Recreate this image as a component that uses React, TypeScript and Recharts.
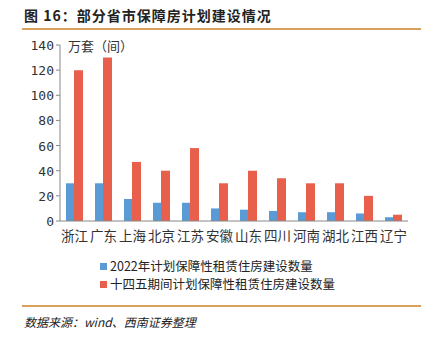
import React from "react";
import { BarChart, Bar, XAxis, YAxis } from "recharts";

const provinces = ["浙江", "广东", "上海", "北京", "江苏", "安徽", "山东", "四川", "河南", "湖北", "江西", "辽宁"];
const plan2022 = [30, 30, 17.5, 14.5, 14.5, 10, 9, 8, 7, 7, 6, 3];
const plan14th = [120, 130, 47, 40, 58, 30, 40, 34, 30, 30, 20, 5];
const yTicks = [0, 20, 40, 60, 80, 100, 120, 140];
const boundaryTicks = [0, 1, 2, 3, 4, 5, 6, 7, 8, 9, 10, 11, 12];

const seriesNames = ["2022年计划保障性租赁住房建设数量", "十四五期间计划保障性租赁住房建设数量"];
const BLUE = "#5B9BD5";
const RED = "#E8604C";

const data = provinces.map((p, i) => ({ name: p, a: plan2022[i], b: plan14th[i], pos: i }));

const MONO = '"DejaVu Sans Mono", "Liberation Mono", monospace';

function YTick(props: any) {
  const { x, y, payload } = props;
  return (
    <text x={x} y={y} dy={5} textAnchor="end" fontSize={13} fill="#333" style={{ fontFamily: MONO }}>
      {payload.value}
    </text>
  );
}

export default function App() {
  const cjk = '"Noto Sans CJK SC", "Noto Sans", sans-serif';
  return (
    <div style={{ position: "fixed", left: 0, top: 0, width: 436, height: 346, background: "#fff", fontFamily: cjk }}>
      <div style={{ position: "absolute", left: 24, top: 5, fontSize: 14, fontWeight: 700, color: "#222", letterSpacing: 1 }}>
        图 16：部分省市保障房计划建设情况
      </div>
      <div style={{ position: "absolute", left: 22, top: 28, width: 399, height: 2, background: "#D9A05B" }} />
      <div style={{ position: "absolute", left: 68, top: 36, fontSize: 13, color: "#333" }}>万套（间）</div>
      <BarChart
        width={436}
        height={250}
        data={data}
        margin={{ top: 45, right: 28, bottom: 0, left: 0 }}
        barGap={0}
        barCategoryGap={9}
        style={{ position: "absolute", left: 0, top: 0 }}
      >
        <XAxis
          dataKey="name"
          interval={0}
          tickLine={false}
          axisLine={{ stroke: "#888" }}
          tick={{ fontSize: 13.5, fill: "#333", fontFamily: cjk }}
          tickMargin={4}
          height={28}
        />
        <XAxis
          xAxisId="bound"
          type="number"
          domain={[0, 12]}
          ticks={boundaryTicks}
          tick={false}
          axisLine={false}
          tickLine={{ stroke: "#888" }}
          tickSize={4}
          height={1}
        />
        <YAxis
          domain={[0, 140]}
          ticks={yTicks}
          width={60}
          axisLine={{ stroke: "#888" }}
          tickLine={{ stroke: "#888" }}
          tickSize={4}
          tick={<YTick />}
        />
        <Bar dataKey="a" name={seriesNames[0]} fill={BLUE} barSize={8} isAnimationActive={false} />
        <Bar dataKey="b" name={seriesNames[1]} fill={RED} barSize={9} isAnimationActive={false} />
      </BarChart>
      <div style={{ position: "absolute", left: 100, top: 257, fontSize: 12.5, color: "#222", lineHeight: "18px" }}>
        {seriesNames.map((n, i) => (
          <div key={n} style={{ display: "flex", alignItems: "center", height: 18 }}>
            <span style={{ display: "inline-block", width: 7, height: 7, background: i === 0 ? BLUE : RED, marginRight: 3 }} />
            {n}
          </div>
        ))}
      </div>
      <div style={{ position: "absolute", left: 22, top: 305, width: 399, height: 2, background: "#D9A05B" }} />
      <div style={{ position: "absolute", left: 24, top: 313, fontSize: 12, fontStyle: "italic", color: "#222" }}>
        数据来源：wind、西南证券整理
      </div>
    </div>
  );
}
